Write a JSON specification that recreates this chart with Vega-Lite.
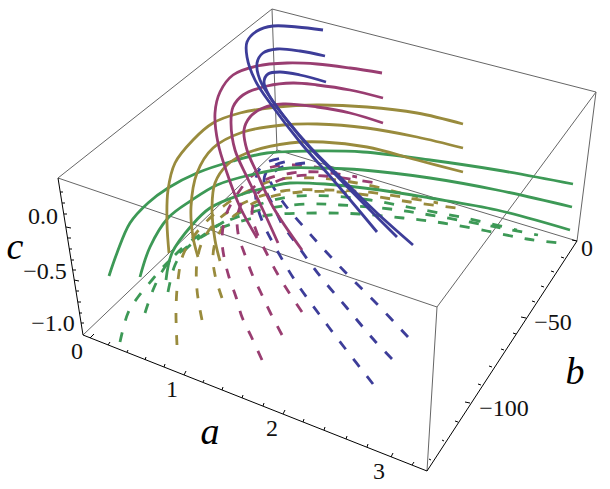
{"$schema":"https://vega.github.io/schema/vega-lite/v6.json","width":610,"height":489,"padding":0,"autosize":"none","background":"white","config":{"view":{"stroke":null}},
"datasets":{
"dashed":[
{"s":"g1","g":"green","i":0,"x":120,"y":342},{"s":"g1","g":"green","i":1,"x":128,"y":313},{"s":"g1","g":"green","i":2,"x":138,"y":297},{"s":"g1","g":"green","i":3,"x":152,"y":280},{"s":"g1","g":"green","i":4,"x":167,"y":263},{"s":"g1","g":"green","i":5,"x":183,"y":250},{"s":"g1","g":"green","i":6,"x":217,"y":226},{"s":"g1","g":"green","i":7,"x":250,"y":208},{"s":"g1","g":"green","i":8,"x":288,"y":197},{"s":"g1","g":"green","i":9,"x":330,"y":196},{"s":"g1","g":"green","i":10,"x":370,"y":200},{"s":"g1","g":"green","i":11,"x":413,"y":208},{"s":"g1","g":"green","i":12,"x":465,"y":218},{"s":"g1","g":"green","i":13,"x":517,"y":230},
{"s":"g2","g":"green","i":0,"x":145,"y":313},{"s":"g2","g":"green","i":1,"x":153,"y":290},{"s":"g2","g":"green","i":2,"x":163,"y":270},{"s":"g2","g":"green","i":3,"x":175,"y":255},{"s":"g2","g":"green","i":4,"x":195,"y":238},{"s":"g2","g":"green","i":5,"x":225,"y":222},{"s":"g2","g":"green","i":6,"x":260,"y":210},{"s":"g2","g":"green","i":7,"x":307,"y":204},{"s":"g2","g":"green","i":8,"x":340,"y":205},{"s":"g2","g":"green","i":9,"x":390,"y":209},{"s":"g2","g":"green","i":10,"x":430,"y":215},{"s":"g2","g":"green","i":11,"x":480,"y":224},{"s":"g2","g":"green","i":12,"x":538,"y":235},
{"s":"g3","g":"green","i":0,"x":168,"y":292},{"s":"g3","g":"green","i":1,"x":175,"y":265},{"s":"g3","g":"green","i":2,"x":185,"y":250},{"s":"g3","g":"green","i":3,"x":205,"y":235},{"s":"g3","g":"green","i":4,"x":235,"y":223},{"s":"g3","g":"green","i":5,"x":270,"y":215},{"s":"g3","g":"green","i":6,"x":320,"y":213},{"s":"g3","g":"green","i":7,"x":360,"y":214},{"s":"g3","g":"green","i":8,"x":403,"y":218},{"s":"g3","g":"green","i":9,"x":443,"y":223},{"s":"g3","g":"green","i":10,"x":487,"y":231},{"s":"g3","g":"green","i":11,"x":527,"y":239},{"s":"g3","g":"green","i":12,"x":560,"y":243},
{"s":"o1","g":"gold","i":0,"x":177,"y":345},{"s":"o1","g":"gold","i":1,"x":176,"y":310},{"s":"o1","g":"gold","i":2,"x":178,"y":280},{"s":"o1","g":"gold","i":3,"x":183,"y":255},{"s":"o1","g":"gold","i":4,"x":197,"y":232},{"s":"o1","g":"gold","i":5,"x":225,"y":205},{"s":"o1","g":"gold","i":6,"x":250,"y":190},{"s":"o1","g":"gold","i":7,"x":275,"y":180},{"s":"o1","g":"gold","i":8,"x":315,"y":178},{"s":"o1","g":"gold","i":9,"x":357,"y":183},{"s":"o1","g":"gold","i":10,"x":397,"y":192},{"s":"o1","g":"gold","i":11,"x":418,"y":197},
{"s":"o2","g":"gold","i":0,"x":202,"y":320},{"s":"o2","g":"gold","i":1,"x":197,"y":290},{"s":"o2","g":"gold","i":2,"x":197,"y":262},{"s":"o2","g":"gold","i":3,"x":203,"y":240},{"s":"o2","g":"gold","i":4,"x":220,"y":218},{"s":"o2","g":"gold","i":5,"x":250,"y":200},{"s":"o2","g":"gold","i":6,"x":283,"y":191},{"s":"o2","g":"gold","i":7,"x":326,"y":190},{"s":"o2","g":"gold","i":8,"x":367,"y":192},{"s":"o2","g":"gold","i":9,"x":408,"y":198},{"s":"o2","g":"gold","i":10,"x":438,"y":203},
{"s":"o3","g":"gold","i":0,"x":222,"y":298},{"s":"o3","g":"gold","i":1,"x":215,"y":275},{"s":"o3","g":"gold","i":2,"x":213,"y":255},{"s":"o3","g":"gold","i":3,"x":218,"y":235},{"s":"o3","g":"gold","i":4,"x":235,"y":215},{"s":"o3","g":"gold","i":5,"x":263,"y":199},{"s":"o3","g":"gold","i":6,"x":300,"y":192},{"s":"o3","g":"gold","i":7,"x":340,"y":192},{"s":"o3","g":"gold","i":8,"x":367,"y":195},{"s":"o3","g":"gold","i":9,"x":410,"y":202},{"s":"o3","g":"gold","i":10,"x":457,"y":208},
{"s":"m1","g":"magenta","i":0,"x":262,"y":360},{"s":"m1","g":"magenta","i":1,"x":251,"y":336},{"s":"m1","g":"magenta","i":2,"x":242,"y":317},{"s":"m1","g":"magenta","i":3,"x":236,"y":297},{"s":"m1","g":"magenta","i":4,"x":229,"y":277},{"s":"m1","g":"magenta","i":5,"x":224,"y":257},{"s":"m1","g":"magenta","i":6,"x":222,"y":238},{"s":"m1","g":"magenta","i":7,"x":226,"y":215},{"s":"m1","g":"magenta","i":8,"x":238,"y":193},{"s":"m1","g":"magenta","i":9,"x":253,"y":175},{"s":"m1","g":"magenta","i":10,"x":272,"y":167},{"s":"m1","g":"magenta","i":11,"x":295,"y":165},{"s":"m1","g":"magenta","i":12,"x":315,"y":167},{"s":"m1","g":"magenta","i":13,"x":337,"y":173},
{"s":"m2","g":"magenta","i":0,"x":282,"y":335},{"s":"m2","g":"magenta","i":1,"x":270,"y":312},{"s":"m2","g":"magenta","i":2,"x":261,"y":293},{"s":"m2","g":"magenta","i":3,"x":252,"y":274},{"s":"m2","g":"magenta","i":4,"x":245,"y":255},{"s":"m2","g":"magenta","i":5,"x":238,"y":233},{"s":"m2","g":"magenta","i":6,"x":238,"y":213},{"s":"m2","g":"magenta","i":7,"x":248,"y":193},{"s":"m2","g":"magenta","i":8,"x":265,"y":180},{"s":"m2","g":"magenta","i":9,"x":292,"y":173},{"s":"m2","g":"magenta","i":10,"x":320,"y":172},{"s":"m2","g":"magenta","i":11,"x":357,"y":177},
{"s":"m3","g":"magenta","i":0,"x":302,"y":312},{"s":"m3","g":"magenta","i":1,"x":288,"y":291},{"s":"m3","g":"magenta","i":2,"x":277,"y":273},{"s":"m3","g":"magenta","i":3,"x":267,"y":254},{"s":"m3","g":"magenta","i":4,"x":257,"y":233},{"s":"m3","g":"magenta","i":5,"x":252,"y":213},{"s":"m3","g":"magenta","i":6,"x":258,"y":193},{"s":"m3","g":"magenta","i":7,"x":275,"y":182},{"s":"m3","g":"magenta","i":8,"x":295,"y":176},{"s":"m3","g":"magenta","i":9,"x":325,"y":176},{"s":"m3","g":"magenta","i":10,"x":376,"y":183},
{"s":"b1","g":"blue","i":0,"x":373,"y":384},{"s":"b1","g":"blue","i":1,"x":344,"y":347},{"s":"b1","g":"blue","i":2,"x":319,"y":314},{"s":"b1","g":"blue","i":3,"x":294,"y":279},{"s":"b1","g":"blue","i":4,"x":273,"y":243},{"s":"b1","g":"blue","i":5,"x":263,"y":223},{"s":"b1","g":"blue","i":6,"x":257,"y":205},{"s":"b1","g":"blue","i":7,"x":255,"y":185},{"s":"b1","g":"blue","i":8,"x":258,"y":172},{"s":"b1","g":"blue","i":9,"x":265,"y":163},{"s":"b1","g":"blue","i":10,"x":283,"y":158},
{"s":"b2","g":"blue","i":0,"x":392,"y":359},{"s":"b2","g":"blue","i":1,"x":374,"y":340},{"s":"b2","g":"blue","i":2,"x":347,"y":308},{"s":"b2","g":"blue","i":3,"x":320,"y":276},{"s":"b2","g":"blue","i":4,"x":295,"y":242},{"s":"b2","g":"blue","i":5,"x":282,"y":224},{"s":"b2","g":"blue","i":6,"x":274,"y":207},{"s":"b2","g":"blue","i":7,"x":265,"y":188},{"s":"b2","g":"blue","i":8,"x":265,"y":175},{"s":"b2","g":"blue","i":9,"x":275,"y":165},{"s":"b2","g":"blue","i":10,"x":294,"y":160},
{"s":"b3","g":"blue","i":0,"x":408,"y":337},{"s":"b3","g":"blue","i":1,"x":377,"y":304},{"s":"b3","g":"blue","i":2,"x":347,"y":274},{"s":"b3","g":"blue","i":3,"x":318,"y":243},{"s":"b3","g":"blue","i":4,"x":303,"y":226},{"s":"b3","g":"blue","i":5,"x":289,"y":210},{"s":"b3","g":"blue","i":6,"x":277,"y":193},{"s":"b3","g":"blue","i":7,"x":270,"y":178},{"s":"b3","g":"blue","i":8,"x":280,"y":168},{"s":"b3","g":"blue","i":9,"x":305,"y":163}
],
"solid":[
{"s":"G1","g":"green","i":0,"x":573,"y":184},{"s":"G1","g":"green","i":1,"x":497,"y":170},{"s":"G1","g":"green","i":2,"x":430,"y":160},{"s":"G1","g":"green","i":3,"x":363,"y":152},{"s":"G1","g":"green","i":4,"x":313,"y":151},{"s":"G1","g":"green","i":5,"x":267,"y":153},{"s":"G1","g":"green","i":6,"x":233,"y":161},{"s":"G1","g":"green","i":7,"x":197,"y":173},{"s":"G1","g":"green","i":8,"x":168,"y":188},{"s":"G1","g":"green","i":9,"x":148,"y":203},{"s":"G1","g":"green","i":10,"x":130,"y":223},{"s":"G1","g":"green","i":11,"x":117,"y":253},{"s":"G1","g":"green","i":12,"x":109,"y":276},
{"s":"G2","g":"green","i":0,"x":572,"y":207},{"s":"G2","g":"green","i":1,"x":497,"y":190},{"s":"G2","g":"green","i":2,"x":430,"y":178},{"s":"G2","g":"green","i":3,"x":363,"y":170},{"s":"G2","g":"green","i":4,"x":317,"y":168},{"s":"G2","g":"green","i":5,"x":290,"y":168},{"s":"G2","g":"green","i":6,"x":250,"y":175},{"s":"G2","g":"green","i":7,"x":217,"y":185},{"s":"G2","g":"green","i":8,"x":192,"y":200},{"s":"G2","g":"green","i":9,"x":168,"y":218},{"s":"G2","g":"green","i":10,"x":150,"y":247},{"s":"G2","g":"green","i":11,"x":140,"y":277},
{"s":"G3","g":"green","i":0,"x":570,"y":230},{"s":"G3","g":"green","i":1,"x":497,"y":210},{"s":"G3","g":"green","i":2,"x":430,"y":198},{"s":"G3","g":"green","i":3,"x":380,"y":190},{"s":"G3","g":"green","i":4,"x":325,"y":184},{"s":"G3","g":"green","i":5,"x":290,"y":183},{"s":"G3","g":"green","i":6,"x":273,"y":186},{"s":"G3","g":"green","i":7,"x":240,"y":195},{"s":"G3","g":"green","i":8,"x":210,"y":208},{"s":"G3","g":"green","i":9,"x":192,"y":225},{"s":"G3","g":"green","i":10,"x":172,"y":253},{"s":"G3","g":"green","i":11,"x":166,"y":280},
{"s":"O1","g":"gold","i":0,"x":463,"y":124},{"s":"O1","g":"gold","i":1,"x":417,"y":113},{"s":"O1","g":"gold","i":2,"x":367,"y":107},{"s":"O1","g":"gold","i":3,"x":317,"y":105},{"s":"O1","g":"gold","i":4,"x":277,"y":107},{"s":"O1","g":"gold","i":5,"x":240,"y":113},{"s":"O1","g":"gold","i":6,"x":213,"y":123},{"s":"O1","g":"gold","i":7,"x":193,"y":140},{"s":"O1","g":"gold","i":8,"x":175,"y":163},{"s":"O1","g":"gold","i":9,"x":168,"y":190},{"s":"O1","g":"gold","i":10,"x":167,"y":223},{"s":"O1","g":"gold","i":11,"x":169,"y":253},
{"s":"O2","g":"gold","i":0,"x":463,"y":148},{"s":"O2","g":"gold","i":1,"x":417,"y":137},{"s":"O2","g":"gold","i":2,"x":367,"y":128},{"s":"O2","g":"gold","i":3,"x":317,"y":124},{"s":"O2","g":"gold","i":4,"x":283,"y":125},{"s":"O2","g":"gold","i":5,"x":243,"y":132},{"s":"O2","g":"gold","i":6,"x":213,"y":148},{"s":"O2","g":"gold","i":7,"x":197,"y":173},{"s":"O2","g":"gold","i":8,"x":191,"y":207},{"s":"O2","g":"gold","i":9,"x":193,"y":237},{"s":"O2","g":"gold","i":10,"x":198,"y":257},
{"s":"O3","g":"gold","i":0,"x":463,"y":172},{"s":"O3","g":"gold","i":1,"x":417,"y":160},{"s":"O3","g":"gold","i":2,"x":367,"y":147},{"s":"O3","g":"gold","i":3,"x":323,"y":142},{"s":"O3","g":"gold","i":4,"x":290,"y":143},{"s":"O3","g":"gold","i":5,"x":247,"y":153},{"s":"O3","g":"gold","i":6,"x":227,"y":165},{"s":"O3","g":"gold","i":7,"x":215,"y":183},{"s":"O3","g":"gold","i":8,"x":212,"y":207},{"s":"O3","g":"gold","i":9,"x":215,"y":240},{"s":"O3","g":"gold","i":10,"x":220,"y":261},
{"s":"M1","g":"magenta","i":0,"x":382,"y":73},{"s":"M1","g":"magenta","i":1,"x":350,"y":68},{"s":"M1","g":"magenta","i":2,"x":317,"y":64},{"s":"M1","g":"magenta","i":3,"x":287,"y":63},{"s":"M1","g":"magenta","i":4,"x":257,"y":66},{"s":"M1","g":"magenta","i":5,"x":233,"y":75},{"s":"M1","g":"magenta","i":6,"x":220,"y":92},{"s":"M1","g":"magenta","i":7,"x":215,"y":113},{"s":"M1","g":"magenta","i":8,"x":218,"y":143},{"s":"M1","g":"magenta","i":9,"x":227,"y":173},{"s":"M1","g":"magenta","i":10,"x":240,"y":207},{"s":"M1","g":"magenta","i":11,"x":257,"y":238},
{"s":"M2","g":"magenta","i":0,"x":383,"y":98},{"s":"M2","g":"magenta","i":1,"x":350,"y":90},{"s":"M2","g":"magenta","i":2,"x":317,"y":85},{"s":"M2","g":"magenta","i":3,"x":293,"y":83},{"s":"M2","g":"magenta","i":4,"x":267,"y":86},{"s":"M2","g":"magenta","i":5,"x":243,"y":95},{"s":"M2","g":"magenta","i":6,"x":233,"y":107},{"s":"M2","g":"magenta","i":7,"x":231,"y":123},{"s":"M2","g":"magenta","i":8,"x":235,"y":150},{"s":"M2","g":"magenta","i":9,"x":247,"y":177},{"s":"M2","g":"magenta","i":10,"x":263,"y":210},{"s":"M2","g":"magenta","i":11,"x":278,"y":243},
{"s":"M3","g":"magenta","i":0,"x":383,"y":123},{"s":"M3","g":"magenta","i":1,"x":350,"y":113},{"s":"M3","g":"magenta","i":2,"x":317,"y":107},{"s":"M3","g":"magenta","i":3,"x":283,"y":104},{"s":"M3","g":"magenta","i":4,"x":263,"y":108},{"s":"M3","g":"magenta","i":5,"x":250,"y":117},{"s":"M3","g":"magenta","i":6,"x":244,"y":130},{"s":"M3","g":"magenta","i":7,"x":247,"y":150},{"s":"M3","g":"magenta","i":8,"x":257,"y":173},{"s":"M3","g":"magenta","i":9,"x":273,"y":207},{"s":"M3","g":"magenta","i":10,"x":302,"y":250},
{"s":"B1","g":"blue","i":0,"x":323,"y":30},{"s":"B1","g":"blue","i":1,"x":297,"y":27},{"s":"B1","g":"blue","i":2,"x":273,"y":26},{"s":"B1","g":"blue","i":3,"x":257,"y":31},{"s":"B1","g":"blue","i":4,"x":247,"y":42},{"s":"B1","g":"blue","i":5,"x":247,"y":57},{"s":"B1","g":"blue","i":6,"x":255,"y":80},{"s":"B1","g":"blue","i":7,"x":273,"y":107},{"s":"B1","g":"blue","i":8,"x":300,"y":142},{"s":"B1","g":"blue","i":9,"x":335,"y":182},{"s":"B1","g":"blue","i":10,"x":377,"y":232},
{"s":"B2","g":"blue","i":0,"x":325,"y":56},{"s":"B2","g":"blue","i":1,"x":300,"y":51},{"s":"B2","g":"blue","i":2,"x":277,"y":49},{"s":"B2","g":"blue","i":3,"x":263,"y":53},{"s":"B2","g":"blue","i":4,"x":257,"y":63},{"s":"B2","g":"blue","i":5,"x":260,"y":80},{"s":"B2","g":"blue","i":6,"x":277,"y":107},{"s":"B2","g":"blue","i":7,"x":303,"y":140},{"s":"B2","g":"blue","i":8,"x":333,"y":172},{"s":"B2","g":"blue","i":9,"x":367,"y":207},{"s":"B2","g":"blue","i":10,"x":397,"y":237},
{"s":"B3","g":"blue","i":0,"x":326,"y":82},{"s":"B3","g":"blue","i":1,"x":300,"y":75},{"s":"B3","g":"blue","i":2,"x":280,"y":72},{"s":"B3","g":"blue","i":3,"x":268,"y":74},{"s":"B3","g":"blue","i":4,"x":264,"y":82},{"s":"B3","g":"blue","i":5,"x":270,"y":97},{"s":"B3","g":"blue","i":6,"x":287,"y":120},{"s":"B3","g":"blue","i":7,"x":310,"y":147},{"s":"B3","g":"blue","i":8,"x":340,"y":177},{"s":"B3","g":"blue","i":9,"x":377,"y":213},{"s":"B3","g":"blue","i":10,"x":413,"y":245}
],
"edges":[
{"x":272,"y":9,"x2":58,"y2":178},{"x":272,"y":9,"x2":596,"y2":92},{"x":596,"y":92,"x2":437,"y2":307},{"x":58,"y":178,"x2":437,"y2":307},{"x":272,"y":9,"x2":277,"y2":150},{"x":277,"y":150,"x2":83,"y2":335},{"x":277,"y":150,"x2":577,"y2":241},{"x":437,"y":307,"x2":427,"y2":471},{"x":596,"y":92,"x2":577,"y2":241}
],
"axes":[
{"x":58,"y":178,"x2":83,"y2":335},{"x":83,"y":335,"x2":427,"y2":471},{"x":427,"y":471,"x2":577,"y2":241},
{"x":60,"y":192,"x2":63,"y2":192},{"x":62,"y":203,"x2":65,"y2":203},{"x":64,"y":214,"x2":67,"y2":214},{"x":66,"y":227,"x2":71,"y2":228},{"x":68,"y":238,"x2":71,"y2":238},{"x":69,"y":249,"x2":72,"y2":249},{"x":71,"y":260,"x2":74,"y2":260},{"x":73,"y":270,"x2":76,"y2":270},{"x":74,"y":280,"x2":79,"y2":281},{"x":76,"y":291,"x2":79,"y2":291},{"x":78,"y":302,"x2":81,"y2":302},{"x":79,"y":313,"x2":82,"y2":313},{"x":81,"y":323,"x2":84,"y2":323},
{"x":90,"y":338,"x2":94,"y2":334},{"x":108,"y":345,"x2":110,"y2":342},{"x":127,"y":352,"x2":128,"y2":350},{"x":145,"y":360,"x2":146,"y2":357},{"x":164,"y":367,"x2":165,"y2":364},{"x":184,"y":375,"x2":186,"y2":371},{"x":203,"y":382,"x2":204,"y2":380},{"x":222,"y":390,"x2":223,"y2":387},{"x":242,"y":398,"x2":243,"y2":395},{"x":263,"y":406,"x2":264,"y2":403},{"x":283,"y":414,"x2":285,"y2":410},{"x":303,"y":422,"x2":304,"y2":419},{"x":324,"y":430,"x2":325,"y2":427},{"x":346,"y":439,"x2":347,"y2":436},{"x":367,"y":447,"x2":368,"y2":444},{"x":391,"y":457,"x2":393,"y2":453},{"x":412,"y":465,"x2":414,"y2":462},
{"x":577,"y":241,"x2":572,"y2":240},{"x":564,"y":258,"x2":561,"y2":257},{"x":554,"y":272,"x2":551,"y2":271},{"x":544,"y":287,"x2":541,"y2":286},{"x":535,"y":302,"x2":532,"y2":301},{"x":526,"y":318,"x2":521,"y2":317},{"x":516,"y":334,"x2":513,"y2":333},{"x":504,"y":350,"x2":501,"y2":349},{"x":492,"y":367,"x2":489,"y2":366},{"x":481,"y":385,"x2":478,"y2":384},{"x":470,"y":403,"x2":465,"y2":402},{"x":458,"y":422,"x2":455,"y2":421},{"x":444,"y":441,"x2":442,"y2":440},{"x":431,"y":460,"x2":429,"y2":459}
],
"ticklabels":[
{"t":"0.0","x":43,"y":217},{"t":"−0.5","x":45,"y":272},{"t":"−1.0","x":53,"y":324},{"t":"0","x":77,"y":352},{"t":"1","x":172,"y":390},{"t":"2","x":272,"y":429},{"t":"3","x":379,"y":472},{"t":"0","x":587,"y":249},{"t":"−50","x":553,"y":323},{"t":"−100","x":504,"y":409}
],
"titles":[
{"t":"c","x":15,"y":248},{"t":"a","x":210,"y":433},{"t":"b","x":575,"y":373}
]
},
"layer":[
{"data":{"name":"edges"},"mark":{"type":"rule","color":"#666666","strokeWidth":1},"encoding":{"x":{"field":"x","type":"quantitative","scale":{"domain":[0,610],"range":[0,610]},"axis":null},"y":{"field":"y","type":"quantitative","scale":{"domain":[0,489],"range":[0,489]},"axis":null},"x2":{"field":"x2"},"y2":{"field":"y2"}}},
{"data":{"name":"dashed"},"mark":{"type":"line","interpolate":"catmull-rom","strokeWidth":2.8,"strokeDash":[10,12],"clip":false},"encoding":{"x":{"field":"x","type":"quantitative","scale":{"domain":[0,610],"range":[0,610]},"axis":null},"y":{"field":"y","type":"quantitative","scale":{"domain":[0,489],"range":[0,489]},"axis":null},"color":{"field":"g","type":"nominal","legend":null,"scale":{"domain":["blue","magenta","gold","green"],"range":["#3d3d99","#993d71","#998b3d","#3d9956"]}},"detail":{"field":"s"},"order":{"field":"i","type":"quantitative"}}},
{"data":{"name":"axes"},"mark":{"type":"rule","color":"#000000","strokeWidth":1},"encoding":{"x":{"field":"x","type":"quantitative","scale":{"domain":[0,610],"range":[0,610]},"axis":null},"y":{"field":"y","type":"quantitative","scale":{"domain":[0,489],"range":[0,489]},"axis":null},"x2":{"field":"x2"},"y2":{"field":"y2"}}},
{"data":{"name":"solid"},"mark":{"type":"line","interpolate":"catmull-rom","strokeWidth":2.8,"clip":false},"encoding":{"x":{"field":"x","type":"quantitative","scale":{"domain":[0,610],"range":[0,610]},"axis":null},"y":{"field":"y","type":"quantitative","scale":{"domain":[0,489],"range":[0,489]},"axis":null},"color":{"field":"g","type":"nominal","legend":null,"scale":{"domain":["blue","magenta","gold","green"],"range":["#3d3d99","#993d71","#998b3d","#3d9956"]}},"detail":{"field":"s"},"order":{"field":"i","type":"quantitative"}}},
{"data":{"name":"ticklabels"},"mark":{"type":"text","font":"Liberation Serif","fontSize":24,"align":"center","baseline":"middle","color":"#111111"},"encoding":{"x":{"field":"x","type":"quantitative","scale":{"domain":[0,610],"range":[0,610]},"axis":null},"y":{"field":"y","type":"quantitative","scale":{"domain":[0,489],"range":[0,489]},"axis":null},"text":{"field":"t"}}},
{"data":{"name":"titles"},"mark":{"type":"text","font":"Liberation Serif","fontSize":38,"fontStyle":"italic","align":"center","baseline":"middle","color":"#000000"},"encoding":{"x":{"field":"x","type":"quantitative","scale":{"domain":[0,610],"range":[0,610]},"axis":null},"y":{"field":"y","type":"quantitative","scale":{"domain":[0,489],"range":[0,489]},"axis":null},"text":{"field":"t"}}}
]}
